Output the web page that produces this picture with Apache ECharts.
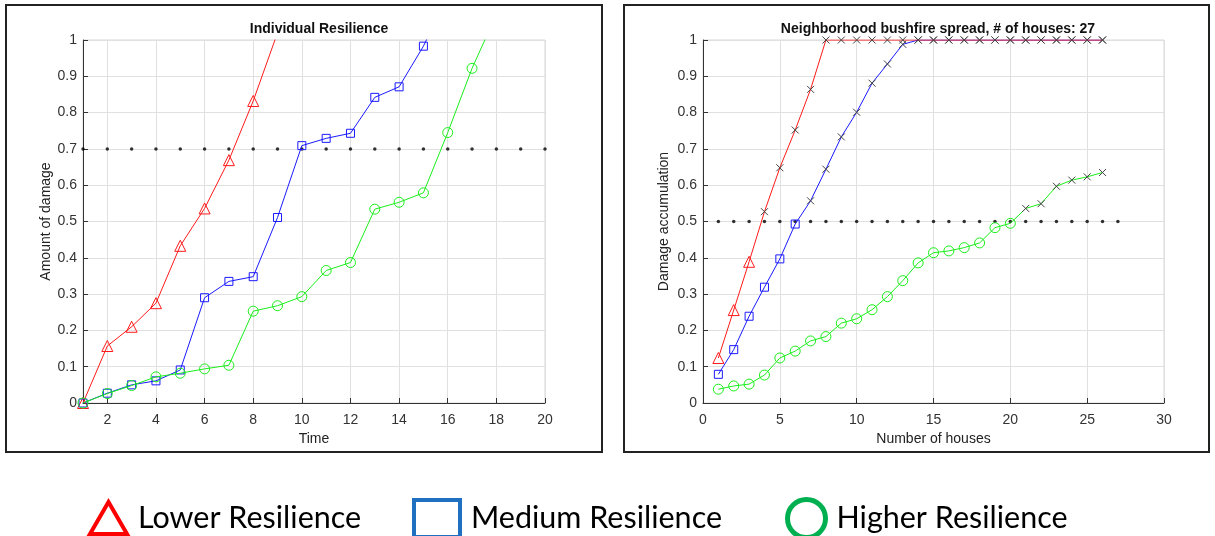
<!DOCTYPE html>
<html>
<head>
<meta charset="utf-8">
<script src="https://cdn.jsdelivr.net/npm/echarts/dist/echarts.min.js"></script>
<style>
  html, body { margin: 0; padding: 0; background: #fff; }
  #chart { width: 1215px; height: 536px; }
</style>
</head>
<body>
<div id="chart"></div>
<script>
// ---------- Data ----------
var seriesNames = ['Lower Resilience', 'Medium Resilience', 'Higher Resilience'];

// Left panel: Individual Resilience (x = time, starting at 1)
var leftTimeStart = 1;
var leftLower  = [0, 0.157, 0.210, 0.275, 0.433, 0.536, 0.669, 0.832, 1.02];
var leftMedium = [0, 0.027, 0.050, 0.061, 0.091, 0.290, 0.335, 0.348, 0.511, 0.709, 0.729, 0.743, 0.842, 0.871, 0.983, 1.12];
var leftHigher = [0, 0.026, 0.048, 0.072, 0.082, 0.094, 0.104, 0.253, 0.268, 0.293, 0.365, 0.387, 0.534, 0.553, 0.579, 0.745, 0.922, 1.07];
var leftThreshold = 0.7;
var leftThresholdX = [1,2,3,4,5,6,7,8,9,10,11,12,13,14,15,16,17,18,19,20];
var leftXTicks = [2,4,6,8,10,12,14,16,18,20];

// Right panel: Neighborhood bushfire spread (x = number of houses, starting at 1)
var rightHouseStart = 1;
var rightLower  = [0.124, 0.256, 0.389, 0.527, 0.648, 0.752, 0.864, 1, 1, 1, 1, 1, 1, 1, 1, 1, 1, 1, 1, 1, 1, 1, 1, 1, 1, 1];
var rightMedium = [0.079, 0.147, 0.239, 0.319, 0.397, 0.493, 0.557, 0.644, 0.733, 0.801, 0.881, 0.934, 0.988, 1, 1, 1, 1, 1, 1, 1, 1, 1, 1, 1, 1, 1];
var rightHigher = [0.038, 0.047, 0.052, 0.077, 0.124, 0.143, 0.171, 0.183, 0.220, 0.232, 0.257, 0.293, 0.337, 0.386, 0.414, 0.419, 0.428, 0.441, 0.483, 0.495, 0.536, 0.549, 0.597, 0.614, 0.623, 0.635];
var rightThreshold = 0.5;
var rightThresholdX = [1,2,3,4,5,6,7,8,9,10,11,12,13,14,15,16,17,18,19,20,21,22,23,24,25,26,27];
var housesCount = 27;

// ---------- Styles ----------
var colors = ['#ff1a1a', '#1a1aff', '#1aee1a'];
var symbols = ['triangle', 'rect', 'circle'];
var symbolSizes = [11, 8, 10];
var legendColors = ['#ff0000', '#1f70c1', '#00b050'];
var crossPath = 'path://M0,0L10,10M0,10L10,0';
var axisColor = '#333';
var gridColor = '#e0e0e0';
var font = 'Liberation Sans, Arial, sans-serif';

function toXY(arr, start) {
  return arr.map(function (v, i) { return [start + i, v]; });
}

function baseStyle(k) {
  return { color: 'rgba(255,255,255,0)', borderColor: colors[k], borderWidth: 1 };
}

function leftSeries(k, arr) {
  return {
    name: seriesNames[k], type: 'line', xAxisIndex: 0, yAxisIndex: 0,
    data: toXY(arr, leftTimeStart),
    symbol: symbols[k], symbolSize: symbolSizes[k], clip: true,
    lineStyle: { color: colors[k], width: 1 },
    itemStyle: baseStyle(k),
    z: 3 + k, animation: false
  };
}

function rightSeries(k, arr, z) {
  var data = arr.map(function (v, i) {
    var item = { value: [rightHouseStart + i, v] };
    if (v > rightThreshold) {
      item.symbol = crossPath;
      item.symbolSize = 7;
      item.itemStyle = { color: 'rgba(0,0,0,0)', borderColor: '#444', borderWidth: 1 };
    }
    return item;
  });
  return {
    name: seriesNames[k], type: 'line', xAxisIndex: 1, yAxisIndex: 1,
    data: data,
    symbol: symbols[k], symbolSize: symbolSizes[k], clip: true,
    lineStyle: { color: colors[k], width: 1 },
    itemStyle: baseStyle(k),
    z: z, animation: false
  };
}

function thresholdSeries(xs, y, xi) {
  return {
    type: 'scatter', xAxisIndex: xi, yAxisIndex: xi,
    data: xs.map(function (x) { return [x, y]; }),
    symbol: 'circle', symbolSize: 3.5,
    itemStyle: { color: '#000' }, silent: true, z: 2, animation: false
  };
}

function yAxisCfg(gi, name, gap) {
  return {
    type: 'value', gridIndex: gi, min: 0, max: 1, interval: 0.1,
    name: name, nameLocation: 'middle', nameGap: gap,
    nameTextStyle: { fontFamily: font, fontSize: 14, color: '#222' },
    axisLine: { show: true, lineStyle: { color: axisColor, width: 1 } },
    axisTick: { show: true, inside: true, length: 5, lineStyle: { color: axisColor } },
    axisLabel: { fontFamily: font, fontSize: 14, color: axisColor, margin: 6,
      formatter: function (v) { return Math.round(v * 10) / 10 + ''; } },
    splitLine: { show: true, lineStyle: { color: gridColor, width: 1 } }
  };
}

function xAxisBase(gi, name) {
  return {
    type: 'value', gridIndex: gi,
    name: name, nameLocation: 'middle', nameGap: 28,
    nameTextStyle: { fontFamily: font, fontSize: 14, color: '#222' },
    axisLine: { show: true, onZero: false, lineStyle: { color: axisColor, width: 1 } },
    axisTick: { show: true, inside: true, length: 5, lineStyle: { color: axisColor } },
    axisLabel: { fontFamily: font, fontSize: 14, color: axisColor, margin: 10 },
    splitLine: { show: true, lineStyle: { color: gridColor, width: 1 } }
  };
}

var xLeft = xAxisBase(0, 'Time');
xLeft.min = 1; xLeft.max = 20;
xLeft.axisTick.customValues = leftXTicks;
xLeft.axisLabel.customValues = leftXTicks;

var xRight = xAxisBase(1, 'Number of houses');
xRight.min = 0; xRight.max = 30; xRight.interval = 5;

var legendFont = { fontFamily: 'Lato, Open Sans, sans-serif', fontSize: 30.5, color: '#000', padding: [0, 0, 0, 6] };

var option = {
  backgroundColor: '#fff',
  animation: false,
  title: [
    { text: 'Individual Resilience', left: 314, top: 17, textAlign: 'center',
      textStyle: { fontFamily: font, fontSize: 14, fontWeight: 'bold', color: '#111' } },
    { text: 'Neighborhood bushfire spread, # of houses: ' + housesCount, left: 933, top: 17, textAlign: 'center',
      textStyle: { fontFamily: font, fontSize: 14, fontWeight: 'bold', color: '#111' } }
  ],
  grid: [
    { left: 83, top: 40, width: 462, height: 363, show: true, borderColor: '#d8d8d8', borderWidth: 1, backgroundColor: 'transparent' },
    { left: 703, top: 40, width: 461, height: 363, show: true, borderColor: '#d8d8d8', borderWidth: 1, backgroundColor: 'transparent' }
  ],
  xAxis: [xLeft, xRight],
  yAxis: [yAxisCfg(0, 'Amount of damage', 30), yAxisCfg(1, 'Damage accumulation', 32)],
  legend: [
    { data: [{ name: seriesNames[0], icon: 'triangle',
        itemStyle: { color: '#fff', borderColor: legendColors[0], borderWidth: 4 } }],
      left: 88, top: 500, padding: 0, itemWidth: 37, itemHeight: 32, selectedMode: false, textStyle: legendFont },
    { data: [{ name: seriesNames[1], icon: 'rect',
        itemStyle: { color: '#fff', borderColor: legendColors[1], borderWidth: 4 } }],
      left: 412, top: 498, padding: 0, itemWidth: 46, itemHeight: 37, selectedMode: false, textStyle: legendFont },
    { data: [{ name: seriesNames[2], icon: 'circle',
        itemStyle: { color: '#fff', borderColor: legendColors[2], borderWidth: 5 } }],
      left: 785, top: 497, padding: 0, itemWidth: 38, itemHeight: 38, selectedMode: false, textStyle: legendFont }
  ],
  graphic: [
    { type: 'rect', shape: { x: 6, y: 5, width: 596, height: 447 },
      style: { fill: 'none', stroke: '#222', lineWidth: 2 }, silent: true, z: 100 },
    { type: 'rect', shape: { x: 624, y: 5, width: 585, height: 447 },
      style: { fill: 'none', stroke: '#222', lineWidth: 2 }, silent: true, z: 100 }
  ],
  series: [
    thresholdSeries(leftThresholdX, leftThreshold, 0),
    thresholdSeries(rightThresholdX, rightThreshold, 1),
    leftSeries(0, leftLower),
    leftSeries(1, leftMedium),
    leftSeries(2, leftHigher),
    rightSeries(2, rightHigher, 3),
    rightSeries(1, rightMedium, 4),
    rightSeries(0, rightLower, 5)
  ]
};

var chart = echarts.init(document.getElementById('chart'), null, { renderer: 'canvas' });
chart.setOption(option);
</script>
</body>
</html>
